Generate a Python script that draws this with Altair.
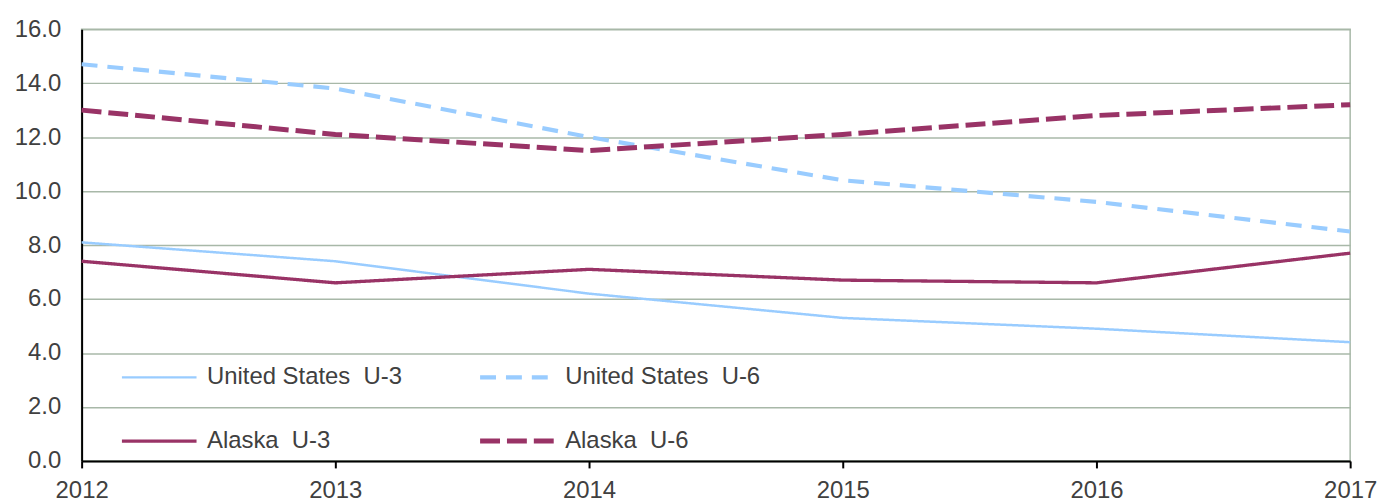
import altair as alt
import pandas as pd

years = [2012, 2013, 2014, 2015, 2016, 2017]
us_u3 = [8.1, 7.4, 6.2, 5.3, 4.9, 4.4]
us_u6 = [14.7, 13.8, 12.0, 10.4, 9.6, 8.5]
ak_u3 = [7.4, 6.6, 7.1, 6.7, 6.6, 7.7]
ak_u6 = [13.0, 12.1, 11.5, 12.1, 12.8, 13.2]
NB = "\u00a0"
series_names = ["United States" + NB + " U-3", "Alaska" + NB + " U-3",
                "United States" + NB + " U-6", "Alaska" + NB + " U-6"]
series_values = [us_u3, ak_u3, us_u6, ak_u6]

rows = []
for name, vals in zip(series_names, series_values):
    for y, v in zip(years, vals):
        rows.append({"Year": y, "Rate": v, "Series": name})
df = pd.DataFrame(rows)

colors = ["#99ccff", "#993366", "#99ccff", "#993366"]
dashes = [[1, 0], [1, 0], [16, 10], [20, 7]]

FONT = "Liberation Sans"
TXT = "#404040"
FS = 24

legend = alt.Legend(
    title=None,
    orient="none",
    legendX=38,
    legendY=339,
    columns=2,
    symbolType="stroke",
    symbolSize=5625,
    clipHeight=22,
    rowPadding=40,
    columnPadding=75,
    labelOffset=8,
    labelFont=FONT,
    labelFontSize=FS,
    labelColor=TXT,
    labelLimit=400,
)

chart = alt.Chart(df).mark_line(clip=False).encode(
    x=alt.X("Year:Q",
            scale=alt.Scale(domain=[2012, 2017], nice=False, zero=False),
            axis=alt.Axis(values=years, format="d", title=None, grid=False,
                          domainColor="#000000", domainWidth=2,
                          tickColor="#000000", tickSize=7, tickWidth=2,
                          labelPadding=11, labelFont=FONT, labelFontSize=FS,
                          labelColor=TXT, labelFlush=False)),
    y=alt.Y("Rate:Q",
            scale=alt.Scale(domain=[0, 16], nice=False),
            axis=alt.Axis(values=[0, 2, 4, 6, 8, 10, 12, 14, 16], format=".1f",
                          title=None, grid=True, gridColor="#a8b8a8", gridWidth=1.5,
                          domainColor="#000000", domainWidth=2, ticks=False,
                          labelPadding=21, labelFont=FONT, labelFontSize=FS,
                          labelColor=TXT)),
    color=alt.Color("Series:N", scale=alt.Scale(domain=series_names, range=colors), legend=legend),
    strokeDash=alt.StrokeDash("Series:N", scale=alt.Scale(domain=series_names, range=dashes), legend=legend),
    strokeWidth=alt.StrokeWidth("Series:N", scale=alt.Scale(domain=series_names, range=[2.5, 5], padding=0), legend=legend),
).properties(
    width=1275,
    height=434,
    autosize=alt.AutoSizeParams(type="none"),
    padding={"left": 74, "top": 20, "right": 30, "bottom": 40},
).configure_view(
    stroke="#a8b8a8", strokeWidth=1.5
)

chart.save("out.html", embed_options={"renderer": "svg", "actions": False})
